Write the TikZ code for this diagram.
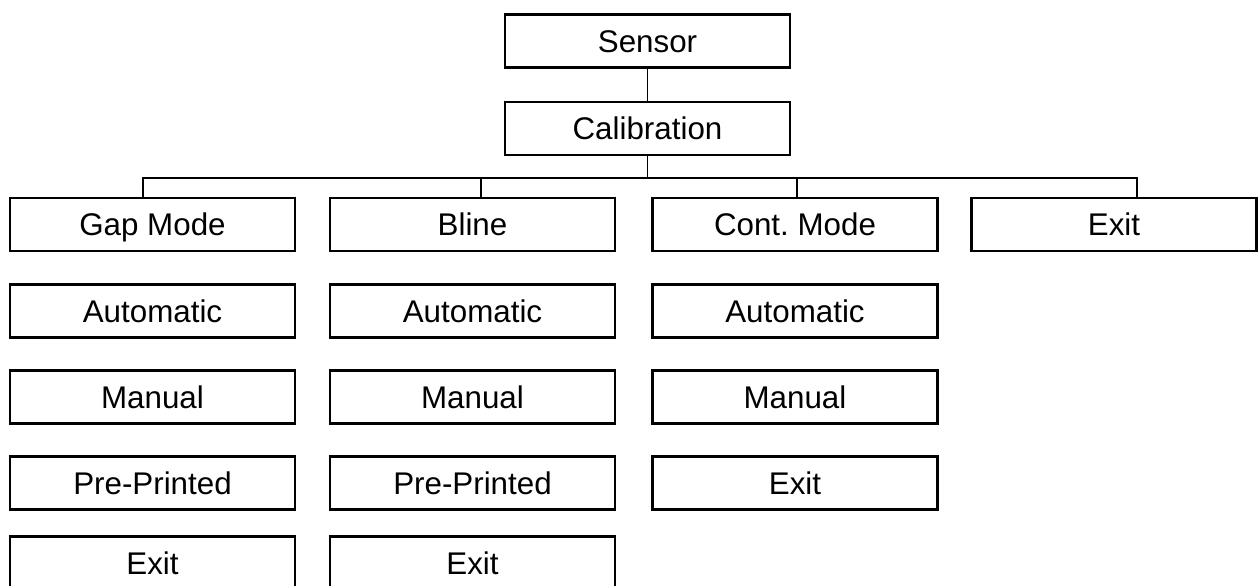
\documentclass[tikz,border=0pt]{standalone}
\usepackage{fontspec}
\setmainfont{Liberation Sans}

\begin{document}
\begin{tikzpicture}[x=0.75pt,y=-0.75pt,
  box/.style={draw,line width=1.8pt,minimum width=213.5pt,minimum height=39.5pt,
    inner sep=0pt,text height=16.8pt,text depth=0pt,
    font=\fontsize{23.5}{28}\selectfont},
  link/.style={line width=1.3pt}]
  \useasboundingbox (0,0) rectangle (1258,586);
  \node[box] (sensor) at (647.5,41) {Sensor};
  \node[box] (calib) at (647.5,128.5) {Calibration};
  \node[box] (gap) at (152.5,224.5) {Gap Mode};
  \node[box] (bline) at (472.5,224.5) {Bline};
  \node[box] (cont) at (795,224.5) {Cont.\ Mode};
  \node[box] (exit) at (1114,224.5) {Exit};
  \foreach \c/\x in {gap/152.5,bline/472.5,cont/795}{
    \node[box] (\c-auto) at (\x,311) {Automatic};
    \node[box] (\c-man) at (\x,397) {Manual};
  }
  \node[box] (gap-pre) at (152.5,483) {Pre-Printed};
  \node[box] (bline-pre) at (472.5,483) {Pre-Printed};
  \node[box] (cont-exit) at (795,483) {Exit};
  \node[box] (gap-exit) at (152.5,563) {Exit};
  \node[box] (bline-exit) at (472.5,563) {Exit};
  % bus under calibration
  \coordinate (b1) at (143,178);
  \coordinate (b2) at (481,178);
  \coordinate (b3) at (797,178);
  \coordinate (b4) at (1137,178);
  \draw[link] (sensor) -- (calib);
  \draw[link] (calib) -- (calib |- b1);
  \draw[link] (gap.north -| b1) -- (b1) -- (b4) -- (exit.north -| b4);
  \draw[link] (b2) -- (bline.north -| b2);
  \draw[link] (b3) -- (cont.north -| b3);
\end{tikzpicture}
\end{document}
